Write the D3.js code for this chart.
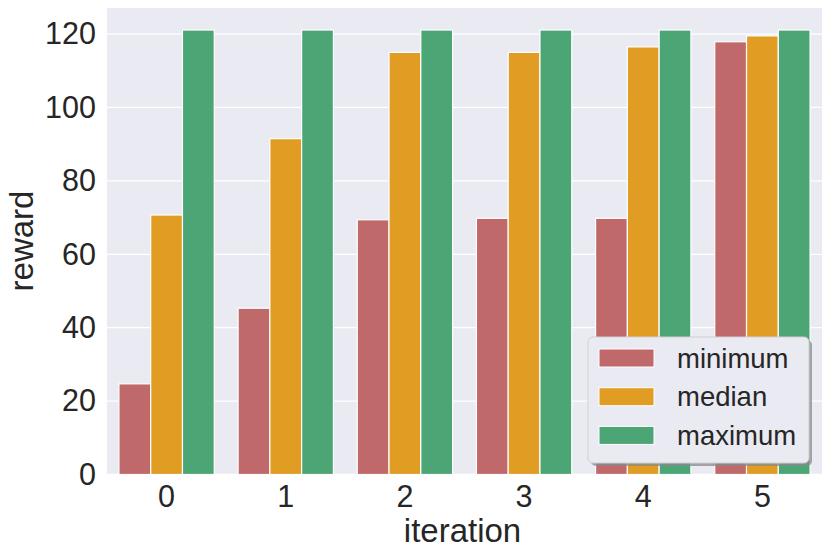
<!DOCTYPE html>
<html>
<head>
<meta charset="utf-8">
<script src="https://cdn.jsdelivr.net/npm/d3@7"></script>
<style>
  body { margin: 0; background: #fff; }
  text { font-family: "Liberation Sans", Arial, sans-serif; fill: #262626; }
</style>
</head>
<body>
<div id="chart"></div>
<script>
let w = 830;
let h = 557;

// data
const iterations = ["0", "1", "2", "3", "4", "5"];
const seriesNames = ["minimum", "median", "maximum"];
const minimum = [24.7, 45.3, 69.4, 69.8, 69.8, 117.9];
const median = [70.7, 91.5, 115.0, 115.0, 116.5, 119.5];
const maximum = [121.1, 121.1, 121.1, 121.1, 121.1, 121.1];
const yTicks = [0, 20, 40, 60, 80, 100, 120];
const colors = ["#c0696b", "#e09c23", "#4ca574"];

const series = [minimum, median, maximum];

// plot area
const plotLeft = 107, plotRight = 822, plotTop = 8, plotBottom = 474.5;

var svg = d3.select("#chart").append("svg").attr("width", w).attr("height", h);

var x = d3.scaleBand().domain(iterations).range([plotLeft, plotRight]).paddingInner(0.2).paddingOuter(0.1);
var xSub = d3.scaleBand().domain(seriesNames).range([0, x.bandwidth()]);
var y = d3.scaleLinear().domain([0, 127.1]).range([plotBottom, plotTop]);

// background
svg.append("rect")
  .attr("x", plotLeft).attr("y", plotTop)
  .attr("width", plotRight - plotLeft).attr("height", plotBottom - plotTop)
  .attr("fill", "#eaeaf2");

// horizontal grid
svg.append("g")
  .selectAll("line")
  .data(yTicks)
  .enter()
  .append("line")
  .attr("x1", plotLeft).attr("x2", plotRight)
  .attr("y1", d => y(d)).attr("y2", d => y(d))
  .attr("stroke", "#fff").attr("stroke-width", 1.3);

// bars
svg.append("g")
  .selectAll("g")
  .data(seriesNames)
  .enter()
  .append("g")
  .attr("fill", (d, i) => colors[i])
  .each(function (name, si) {
    d3.select(this)
      .selectAll("rect")
      .data(series[si])
      .enter()
      .append("rect")
      .attr("x", (d, i) => x(iterations[i]) + xSub(name))
      .attr("width", xSub.bandwidth())
      .attr("y", d => y(d))
      .attr("height", d => y(0) - y(d))
      .attr("stroke", "#fff")
      .attr("stroke-width", 1.2);
  });

// y axis
var yAxis = svg.append("g")
  .attr("transform", "translate(" + plotLeft + ",0)")
  .call(d3.axisLeft(y).tickValues(yTicks).tickSize(0).tickPadding(11));
yAxis.select(".domain").remove();
yAxis.selectAll("text")
  .attr("font-size", 30.5)
  .attr("font-family", "Liberation Sans, Arial, sans-serif")
  .attr("fill", "#262626");

// x axis
var xAxis = svg.append("g")
  .attr("transform", "translate(0," + plotBottom + ")")
  .call(d3.axisBottom(x).tickSize(0).tickPadding(11));
xAxis.select(".domain").remove();
xAxis.selectAll("text")
  .attr("font-size", 30.5)
  .attr("font-family", "Liberation Sans, Arial, sans-serif")
  .attr("fill", "#262626");

// axis titles
svg.append("text")
  .attr("x", (plotLeft + plotRight) / 2 - 2)
  .attr("y", 542)
  .attr("text-anchor", "middle")
  .attr("font-size", 33)
  .text("iteration");

svg.append("text")
  .attr("transform", "translate(33," + 241 + ") rotate(-90)")
  .attr("text-anchor", "middle")
  .attr("font-size", 33)
  .text("reward");

// legend
var legend = svg.append("g").attr("transform", "translate(588,337)");
legend.append("rect")
  .attr("x", 3).attr("y", 3)
  .attr("width", 221).attr("height", 126)
  .attr("rx", 5)
  .attr("fill", "#8a8a8a").attr("opacity", 0.75);
legend.append("rect")
  .attr("width", 221).attr("height", 126)
  .attr("rx", 5)
  .attr("fill", "#eaeaf2")
  .attr("stroke", "#cfcfd4").attr("stroke-width", 1);

legend.selectAll("g.item")
  .data(seriesNames)
  .enter()
  .append("g")
  .attr("class", "item")
  .attr("transform", (d, i) => "translate(0," + (21 + i * 38.7) + ")")
  .each(function (d, i) {
    d3.select(this).append("rect")
      .attr("x", 11).attr("y", -9)
      .attr("width", 55).attr("height", 18)
      .attr("fill", colors[i])
      .attr("stroke", "#fff").attr("stroke-width", 1);
    d3.select(this).append("text")
      .attr("x", 89).attr("y", 9.5)
      .attr("font-size", 27.5)
      .text(d);
  });
</script>
</body>
</html>
